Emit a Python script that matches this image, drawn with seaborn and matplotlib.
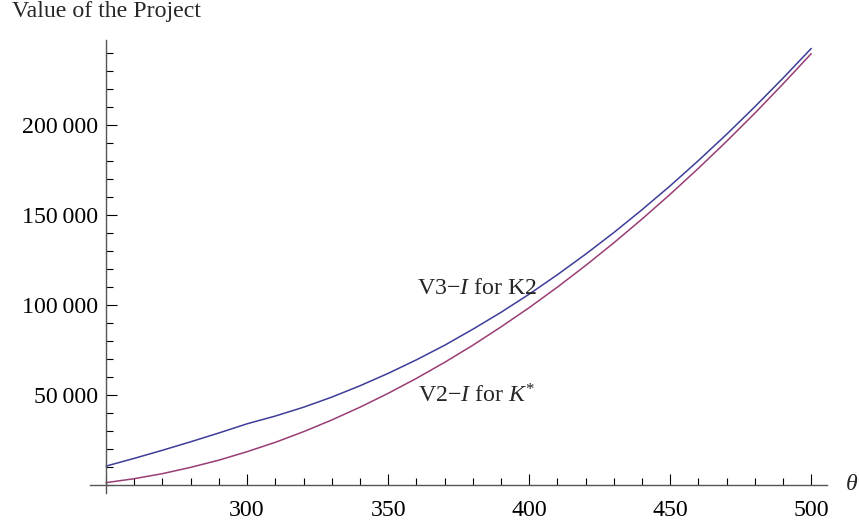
"""Value of the project vs theta, Mathematica-style axes."""

import matplotlib

matplotlib.use("Agg")
import matplotlib.pyplot as plt
import pandas as pd
import seaborn as sns
from matplotlib.ticker import FuncFormatter, MultipleLocator

theta = [250, 260, 270, 280, 290, 300, 310, 320, 330, 340, 350, 360, 370,
         380, 390, 400, 410, 420, 430, 440, 450, 460, 470, 480, 490, 500]

v3_k2 = [10500, 14800, 19300, 24000, 28900, 34000, 38300, 43200, 48800,
         55100, 62000, 69500, 77600, 86500, 95900, 106000, 116800, 128200,
         140200, 152900, 166200, 180200, 194800, 210100, 226000, 242500]

v2_kstar = [1300, 3500, 6300, 9800, 13800, 18500, 23700, 29600, 36100,
            43200, 50900, 59200, 68100, 77600, 87800, 98500, 109900, 121900,
            134500, 147700, 161500, 175900, 190900, 206500, 222800, 239600]

x_ticks = [300, 350, 400, 450, 500]
y_ticks = [50000, 100000, 150000, 200000]

BLUE = "#3d3d99"
PURPLE = "#993d74"
SERIF = ["Liberation Serif", "DejaVu Serif"]
FS = 17.2

sns.set_style("white")
plt.rcParams["font.family"] = SERIF
plt.rcParams["mathtext.fontset"] = "custom"
plt.rcParams["mathtext.rm"] = "Liberation Serif"
plt.rcParams["mathtext.it"] = "Liberation Serif:italic"

df = pd.DataFrame({"theta": theta, "v3": v3_k2, "v2": v2_kstar})

fig = plt.figure(figsize=(8.59, 5.25), dpi=100)
ax = fig.add_axes([90 / 859, 32 / 525, 737 / 859, 453 / 525])

sns.lineplot(data=df, x="theta", y="v3", ax=ax, color=BLUE, lw=1.1)
sns.lineplot(data=df, x="theta", y="v2", ax=ax, color=PURPLE, lw=1.1)

ax.set_xlim(244.3, 505.6)
ax.set_ylim(-4450, 247200)

for side in ["top", "right"]:
    ax.spines[side].set_visible(False)
ax.spines["left"].set_position(("data", 250))
ax.spines["bottom"].set_position(("data", 0))
for side in ["left", "bottom"]:
    ax.spines[side].set_color("#555555")
    ax.spines[side].set_linewidth(1.0)

ax.xaxis.set_major_locator(plt.FixedLocator(x_ticks))
ax.xaxis.set_minor_locator(MultipleLocator(10))
ax.yaxis.set_major_locator(plt.FixedLocator(y_ticks))
ax.yaxis.set_minor_locator(MultipleLocator(10000))
ax.yaxis.set_major_formatter(
    FuncFormatter(lambda v, _: f"{int(v):,}".replace(",", "\u2009"))
)

ax.tick_params(axis="both", which="both", direction="in", color="black",
               width=0.8, labelsize=FS, labelcolor="black",
               bottom=True, left=True, top=False, right=False)
ax.tick_params(axis="both", which="major", length=8)
ax.tick_params(axis="both", which="minor", length=5)
ax.tick_params(axis="x", which="major", pad=11)
ax.tick_params(axis="y", which="major", pad=6)

ax.set_xlabel("")
ax.set_ylabel("")

ax.text(360.3, 108900, r"V3$-I$ for K2", fontsize=FS, ha="left", va="center")
ax.text(360.6, 49400, r"V2$-I$ for $K^{*}$", fontsize=FS, ha="left",
        va="center")
ax.text(512, 0, r"$\theta$", fontsize=FS, ha="left", va="center",
        clip_on=False)

fig.text(12 / 859, 1 - 12 / 525, "Value of the Project", fontsize=FS,
         ha="left", va="center")

fig.savefig("out.png", dpi=100)
plt.close(fig)
